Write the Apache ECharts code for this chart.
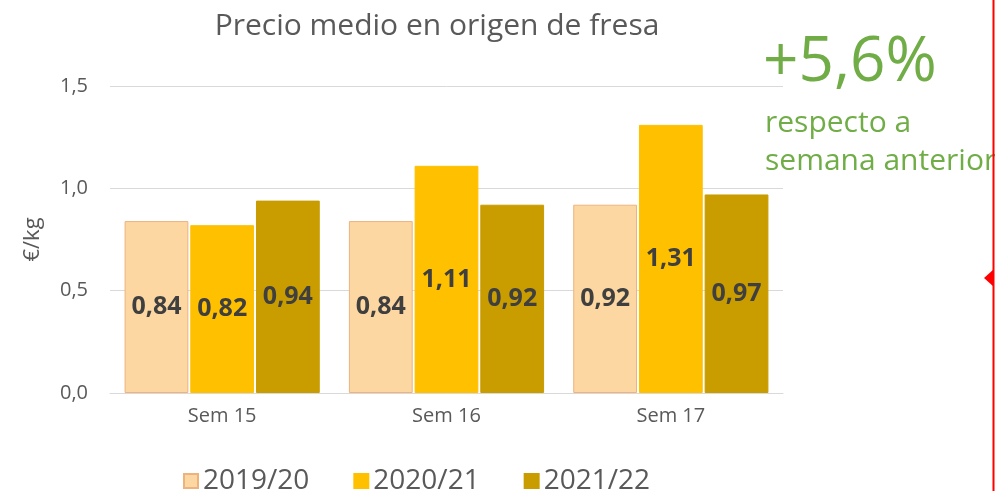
<!DOCTYPE html>
<html>
<head>
<meta charset="utf-8">
<script src="https://cdn.jsdelivr.net/npm/echarts@6/dist/echarts.min.js"></script>
<style>
  html, body { margin: 0; padding: 0; background: #fff; }
  #chart { width: 995px; height: 491px; }
</style>
</head>
<body>
<div id="chart"></div>
<script>
const categories = ['Sem 15', 'Sem 16', 'Sem 17']
const seasons = ['2019/20', '2020/21', '2021/22']
const values2019 = [0.84, 0.84, 0.92]
const values2020 = [0.82, 1.11, 1.31]
const values2021 = [0.94, 0.92, 0.97]
const colors = ['#FDD7A2', '#FFC000', '#C99C00']
const borders = ['#EDB27E', '#FFC000', '#C99C00']

const font = 'Open Sans'
const fmt = v => v.toFixed(2).replace('.', ',')

const chart = echarts.init(document.getElementById('chart'))

const series = [values2019, values2020, values2021].map((vals, i) => ({
  name: seasons[i],
  type: 'bar',
  data: vals,
  barGap: '3%',
  barCategoryGap: '13%',
  itemStyle: { color: colors[i], borderColor: borders[i], borderWidth: 1 },
  label: {
    show: true,
    position: 'inside',
    formatter: p => fmt(p.value),
    color: '#3F3F3F',
    fontFamily: font,
    fontWeight: 'bold',
    fontSize: 25
  }
}))

const option = {
  animation: false,
  title: {
    text: 'Precio medio en origen de fresa',
    left: 432,
    textAlign: 'center',
    top: 6,
    textStyle: { color: '#595959', fontFamily: font, fontWeight: 'normal', fontSize: 30 }
  },
  legend: {
    data: seasons,
    left: 178,
    top: 462,
    itemWidth: 14,
    itemHeight: 14,
    itemGap: 44,
    icon: 'rect',
    textStyle: { color: '#595959', fontFamily: font, fontSize: 28 }
  },
  grid: { left: 110, right: 212, top: 86, bottom: 98 },
  xAxis: {
    type: 'category',
    data: categories,
    axisLine: { lineStyle: { color: '#D9D9D9' } },
    axisTick: { show: false },
    axisLabel: { color: '#595959', fontFamily: font, fontSize: 20, margin: 13 }
  },
  yAxis: {
    type: 'value',
    min: 0,
    max: 1.5,
    interval: 0.5,
    name: '€/kg',
    nameLocation: 'middle',
    nameGap: 66,
    nameTextStyle: { color: '#595959', fontFamily: font, fontSize: 22 },
    axisLabel: { color: '#595959', fontFamily: font, fontSize: 20, margin: 22, formatter: v => v.toFixed(1).replace('.', ',') },
    splitLine: { lineStyle: { color: '#D9D9D9' } }
  },
  graphic: [
    {
      type: 'text', left: 763, top: 32,
      style: { text: '+5,6%', fill: '#70AD47', font: '62px "Open Sans"' }
    },
    {
      type: 'text', left: 765, top: 104,
      style: { text: 'respecto a\nsemana anterior', fill: '#70AD47', font: '30px "Open Sans"', lineHeight: 38 }
    },
    {
      type: 'line', shape: { x1: 993.5, y1: 0, x2: 993.5, y2: 491 },
      style: { stroke: '#FF0000', lineWidth: 2 }
    },
    {
      type: 'polygon', shape: { points: [[984, 278], [994, 269], [994, 287]] },
      style: { fill: '#FF0000' }
    }
  ],
  series: series
}

chart.setOption(option)
</script>
</body>
</html>
